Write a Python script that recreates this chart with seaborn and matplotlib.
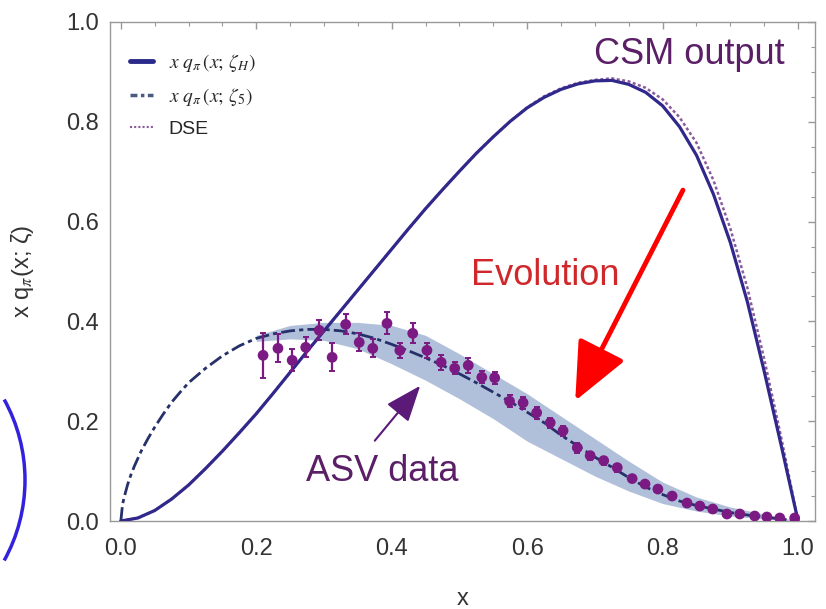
import numpy as np
import matplotlib
matplotlib.use("Agg")
import matplotlib.pyplot as plt
import seaborn as sns
from matplotlib.lines import Line2D
from matplotlib.patches import Arc
from matplotlib.ticker import MultipleLocator

# --- pion valence distribution at the hadronic scale (CSM) and DSE ---
csm_x = np.linspace(0.0, 1.0, 41)
csm_y = [0.000, 0.006, 0.021, 0.044, 0.072, 0.105, 0.140, 0.177, 0.215, 0.256,
         0.298, 0.340, 0.381, 0.422, 0.463, 0.504, 0.545, 0.586, 0.626, 0.664,
         0.701, 0.737, 0.770, 0.801, 0.828, 0.849, 0.865, 0.876, 0.882, 0.883,
         0.875, 0.859, 0.832, 0.790, 0.733, 0.655, 0.558, 0.440, 0.300, 0.152,
         0.000]
dse_y = [0.000, 0.006, 0.021, 0.044, 0.072, 0.105, 0.140, 0.177, 0.215, 0.256,
         0.298, 0.340, 0.381, 0.422, 0.463, 0.504, 0.545, 0.586, 0.626, 0.664,
         0.701, 0.737, 0.770, 0.801, 0.829, 0.851, 0.867, 0.878, 0.884, 0.887,
         0.881, 0.868, 0.845, 0.809, 0.758, 0.683, 0.586, 0.468, 0.325, 0.168,
         0.000]

# --- evolved distribution at zeta_5 ---
evo_x = [0.000, 0.0025, 0.005, 0.010, 0.015, 0.020, 0.030, 0.040, 0.050, 0.0625,
         0.075, 0.0875, 0.100, 0.125, 0.150, 0.175, 0.200, 0.225, 0.250, 0.275,
         0.300, 0.325, 0.350, 0.375, 0.400, 0.425, 0.450, 0.475, 0.500, 0.525,
         0.550, 0.575, 0.600, 0.625, 0.650, 0.675, 0.700, 0.725, 0.750, 0.775,
         0.800, 0.825, 0.850, 0.875, 0.900, 0.925, 0.950, 0.975, 1.000]
evo_y = [0.000, 0.033, 0.048, 0.073, 0.093, 0.110, 0.140, 0.165, 0.188, 0.214,
         0.238, 0.258, 0.277, 0.306, 0.331, 0.351, 0.366, 0.375, 0.381, 0.384,
         0.384, 0.381, 0.375, 0.366, 0.354, 0.341, 0.327, 0.312, 0.295, 0.277,
         0.258, 0.239, 0.218, 0.197, 0.172, 0.150, 0.128, 0.108, 0.087, 0.068,
         0.053, 0.040, 0.031, 0.024, 0.017, 0.012, 0.008, 0.004, 0.000]

# uncertainty band of the evolved result
band_x = [0.20, 0.25, 0.30, 0.35, 0.40, 0.45, 0.50, 0.55, 0.60, 0.65,
          0.70, 0.75, 0.80, 0.85, 0.90, 0.95, 1.00]
band_lo = [0.360, 0.365, 0.362, 0.345, 0.315, 0.282, 0.245, 0.205, 0.160, 0.125,
           0.090, 0.060, 0.035, 0.020, 0.010, 0.004, 0.000]
band_hi = [0.372, 0.392, 0.398, 0.398, 0.392, 0.372, 0.335, 0.295, 0.255, 0.210,
           0.165, 0.120, 0.078, 0.048, 0.028, 0.014, 0.000]

# --- ASV data ---
asv_x = [0.210, 0.232, 0.253, 0.273, 0.293, 0.312, 0.332, 0.352, 0.372, 0.393,
         0.412, 0.431, 0.452, 0.473, 0.493, 0.513, 0.533, 0.552, 0.574, 0.594,
         0.614, 0.634, 0.653, 0.674, 0.693, 0.713, 0.733, 0.755, 0.774, 0.793,
         0.814, 0.836, 0.855, 0.874, 0.895, 0.914, 0.936, 0.954, 0.973, 0.995]
asv_y = [0.332, 0.346, 0.322, 0.348, 0.382, 0.328, 0.394, 0.358, 0.346, 0.396,
         0.342, 0.376, 0.342, 0.318, 0.306, 0.312, 0.288, 0.287, 0.240, 0.237,
         0.217, 0.197, 0.181, 0.147, 0.131, 0.121, 0.107, 0.085, 0.074, 0.064,
         0.050, 0.036, 0.030, 0.024, 0.014, 0.014, 0.010, 0.008, 0.006, 0.006]
asv_err = [0.045, 0.028, 0.022, 0.020, 0.020, 0.028, 0.020, 0.018, 0.018, 0.022,
           0.015, 0.020, 0.015, 0.015, 0.012, 0.015, 0.012, 0.012, 0.012, 0.012,
           0.012, 0.010, 0.010, 0.010, 0.008, 0.008, 0.008, 0.006, 0.006, 0.005,
           0.005, 0.004, 0.004, 0.004, 0.003, 0.003, 0.003, 0.003, 0.002, 0.002]

legend_labels = [r"$x\ q_{\pi}\,(x;\,\zeta_H)$", r"$x\ q_{\pi}\,(x;\,\zeta_5)$", "DSE"]

sns.set_theme(style="white")
plt.rcParams["font.family"] = ["Liberation Sans", "DejaVu Sans"]
plt.rcParams["mathtext.fontset"] = "stix"

C_CSM = "#30288a"
C_DSE = "#8c5a9c"
C_EVO = "#26306a"
C_DATA = "#7a1a82"
C_TEXT = "#5a1f66"

fig = plt.figure(figsize=(8.26, 6.09), dpi=100)
ax = fig.add_axes([110 / 826, 88 / 609, 705 / 826, 499 / 609])

ax.fill_between(band_x, band_lo, band_hi, color="#a9b9d6", alpha=0.9, lw=0, zorder=1)

sns.lineplot(x=csm_x, y=dse_y, ax=ax, color=C_DSE, lw=1.8, linestyle=(0, (1.2, 1.0)),
             estimator=None, sort=False, zorder=2)
sns.lineplot(x=csm_x, y=csm_y, ax=ax, color=C_CSM, lw=2.3,
             estimator=None, sort=False, zorder=3)
sns.lineplot(x=evo_x, y=evo_y, ax=ax, color=C_EVO, lw=2.0, linestyle=(0, (5, 1.5, 1.5, 1.5)),
             estimator=None, sort=False, zorder=3)

ax.errorbar(asv_x, asv_y, yerr=asv_err, fmt="none", ecolor=C_DATA, elinewidth=1.6,
            capsize=2.5, capthick=1.4, zorder=4)
sns.scatterplot(x=asv_x, y=asv_y, ax=ax, color=C_DATA, s=60, edgecolor="none", zorder=5)

# axes styling
ax.set_xlim(-0.016, 1.025)
ax.set_ylim(0.0, 1.0)
ax.xaxis.set_major_locator(MultipleLocator(0.2))
ax.xaxis.set_minor_locator(MultipleLocator(0.05))
ax.yaxis.set_major_locator(MultipleLocator(0.2))
ax.yaxis.set_minor_locator(MultipleLocator(0.05))
ax.tick_params(which="both", direction="in", top=True, right=True, color="#999999")
ax.tick_params(which="major", length=5, width=1.0, labelsize=17, labelcolor="#333333")
ax.tick_params(axis="x", which="major", pad=12)
ax.tick_params(axis="y", which="major", pad=8)
ax.tick_params(which="minor", length=3, width=0.8)
for sp in ax.spines.values():
    sp.set_color("#999999")
    sp.set_linewidth(1.0)

ax.set_xlabel("x", fontsize=17, color="#333333")
ax.set_ylabel(r"x q$_{\pi}$(x; ζ)", fontsize=17, color="#333333")
ax.xaxis.set_label_coords(0.5, -0.135)
ax.yaxis.set_label_coords(-0.105, 0.5)

handles = [
    Line2D([], [], color="#2a2a8a", lw=3.5),
    Line2D([], [], color="#4a5a80", lw=2.5, linestyle=(0, (2, 1, 1, 1))),
    Line2D([], [], color=C_DSE, lw=1.5, linestyle=(0, (1, 1))),
]
ax.legend(handles, legend_labels, loc="upper left", bbox_to_anchor=(0.028, 0.94),
          frameon=False, fontsize=14, handlelength=1.2, handletextpad=0.8,
          labelspacing=0.62, borderaxespad=0, borderpad=0)

# annotations
ax.text(0.840, 0.934, "CSM output", fontsize=26, color=C_TEXT, ha="center", va="center")
ax.text(0.626, 0.492, "Evolution", fontsize=26, color="#d0282a", ha="center", va="center")
ax.text(0.386, 0.100, "ASV data", fontsize=26, color=C_TEXT, ha="center", va="center")

ax.annotate("", xy=(0.671, 0.241), xytext=(0.830, 0.663),
            arrowprops=dict(arrowstyle="-|>,head_length=0.9,head_width=0.4",
                            color="#ff0000", lw=3.5, mutation_scale=40,
                            shrinkA=0, shrinkB=0))
ax.annotate("", xy=(0.442, 0.271), xytext=(0.375, 0.161),
            arrowprops=dict(arrowstyle="-|>,head_length=0.9,head_width=0.35",
                            color="#5b1a78", lw=1.5, mutation_scale=25,
                            shrinkA=0, shrinkB=0))

# bracket drawn at the left margin
arc = Arc((-1.41, 1.29), 3.32, 3.32, theta1=-29, theta2=29, color="#3322dd", lw=2.5,
          transform=fig.dpi_scale_trans, clip_on=False)
fig.add_artist(arc)

fig.savefig("out.png", dpi=100, facecolor="white")
